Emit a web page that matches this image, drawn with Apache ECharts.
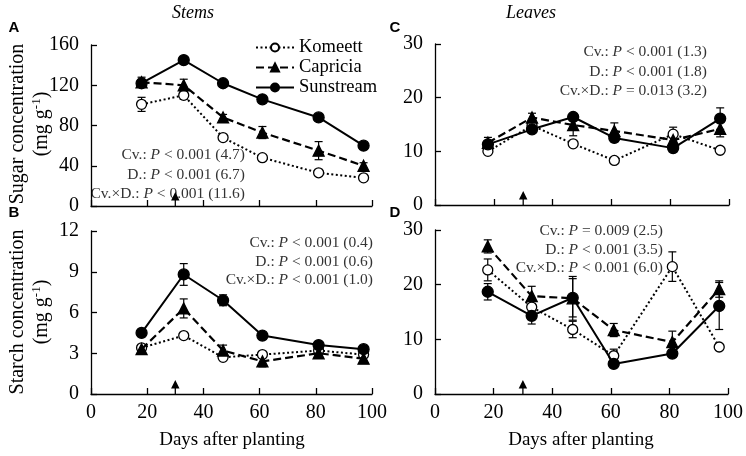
<!DOCTYPE html>
<html><head><meta charset="utf-8">
<script src="https://cdn.jsdelivr.net/npm/echarts@6/dist/echarts.min.js"></script>
<style>html,body{margin:0;padding:0;background:#fff}#c{width:746px;height:456px}</style>
</head><body><div id="c"></div>
<script>
// ---- data ----
const days = [18, 33, 47, 61, 81, 97];
const cultivars = ['Komeett', 'Capricia', 'Sunstream'];
const arrowDay = 30;

// Panel A: sugar, stems (mg g-1)
const sugarStemKomeett   = [101, 110, 68, 48, 33, 28];
const sugarStemCapricia  = [123, 120, 88, 73, 55, 40];
const sugarStemSunstream = [122, 145, 122, 106, 88, 60];
const sugarStemKomeettErr   = [7, 4, 2, 3, 2, 2];
const sugarStemCapriciaErr  = [5, 6, 3, 6, 9, 3];
const sugarStemSunstreamErr = [2, 2, 2, 2, 2, 2];

// Panel B: starch, stems
const starchStemKomeett   = [3.4, 4.3, 2.7, 2.9, 3.2, 2.9];
const starchStemCapricia  = [3.3, 6.3, 3.2, 2.4, 3.0, 2.6];
const starchStemSunstream = [4.5, 8.8, 6.9, 4.3, 3.6, 3.3];
const starchStemKomeettErr   = [0.2, 0.2, 0.2, 0.2, 0.2, 0.2];
const starchStemCapriciaErr  = [0.2, 0.7, 0.4, 0.4, 0.2, 0.2];
const starchStemSunstreamErr = [0.1, 0.8, 0.4, 0.2, 0.1, 0.1];

// Panel C: sugar, leaves
const sugarLeafKomeett   = [10.0, 14.8, 11.4, 8.3, 13.2, 10.2];
const sugarLeafCapricia  = [11.6, 16.3, 14.9, 13.8, 12.1, 14.2];
const sugarLeafSunstream = [11.3, 14.1, 16.4, 12.5, 10.6, 16.1];
const sugarLeafKomeettErr   = [0.4, 0.5, 0.4, 0.4, 1.3, 0.4];
const sugarLeafCapriciaErr  = [1.0, 0.8, 2.0, 1.5, 1.0, 1.5];
const sugarLeafSunstreamErr = [0.5, 0.5, 0.5, 0.7, 0.5, 2.0];

// Panel D: starch, leaves
const starchLeafKomeett   = [22.7, 15.9, 11.8, 7.0, 23.3, 8.6];
const starchLeafCapricia  = [27.0, 17.9, 17.5, 11.7, 9.5, 19.2];
const starchLeafSunstream = [18.7, 14.3, 17.6, 5.5, 7.4, 16.1];
const starchLeafKomeettErr   = [2.0, 0.5, 1.5, 1.2, 2.7, 0.4];
const starchLeafCapriciaErr  = [1.2, 1.8, 4.0, 1.2, 2.0, 1.5];
const starchLeafSunstreamErr = [1.5, 1.5, 3.5, 0.4, 0.4, 4.3];

const xTicks = [0, 20, 40, 60, 80, 100];

const statsA = [['Cv.: ', '< 0.001 (4.7)'], ['D.: ', '< 0.001 (6.7)'], ['Cv.\u00d7D.: ', '< 0.001 (11.6)']];
const statsB = [['Cv.: ', '< 0.001 (0.4)'], ['D.: ', '< 0.001 (0.6)'], ['Cv.\u00d7D.: ', '< 0.001 (1.0)']];
const statsC = [['Cv.: ', '< 0.001 (1.3)'], ['D.: ', '< 0.001 (1.8)'], ['Cv.\u00d7D.: ', '= 0.013 (3.2)']];
const statsD = [['Cv.: ', '= 0.009 (2.5)'], ['D.: ', '< 0.001 (3.5)'], ['Cv.\u00d7D.: ', '< 0.001 (6.0)']];

// ---- chart ----
const SERIF = '"Liberation Serif", "Times New Roman", serif';
const chart = echarts.init(document.getElementById('c'));

const panels = [
  {vals: [sugarStemKomeett, sugarStemCapricia, sugarStemSunstream],
   errs: [sugarStemKomeettErr, sugarStemCapriciaErr, sugarStemSunstreamErr],
   grid: {left: 91, top: 45, width: 281, height: 161}, y: {max: 160, interval: 40}, xlab: false},
  {vals: [starchStemKomeett, starchStemCapricia, starchStemSunstream],
   errs: [starchStemKomeettErr, starchStemCapriciaErr, starchStemSunstreamErr],
   grid: {left: 91, top: 231, width: 281, height: 163}, y: {max: 12, interval: 3}, xlab: true},
  {vals: [sugarLeafKomeett, sugarLeafCapricia, sugarLeafSunstream],
   errs: [sugarLeafKomeettErr, sugarLeafCapriciaErr, sugarLeafSunstreamErr],
   grid: {left: 435, top: 44, width: 294, height: 161}, y: {max: 30, interval: 10}, xlab: false},
  {vals: [starchLeafKomeett, starchLeafCapricia, starchLeafSunstream],
   errs: [starchLeafKomeettErr, starchLeafCapriciaErr, starchLeafSunstreamErr],
   grid: {left: 435, top: 230, width: 294, height: 164}, y: {max: 30, interval: 10}, xlab: true}
];

const styles = [
  {symbol: 'circle', size: 10, color: '#fff', line: {type: [2, 2.5], width: 2}},
  {symbol: 'triangle', size: 11, color: '#000', line: {type: [8, 4], width: 2.2}},
  {symbol: 'circle', size: 11, color: '#000', line: {type: 'solid', width: 2}}
];

const grids = [], xAxes = [], yAxes = [], series = [];
panels.forEach((p, i) => {
  grids.push(p.grid);
  xAxes.push({
    type: 'value', gridIndex: i, min: 0, max: 100, interval: 20,
    axisLine: {show: true, onZero: false, lineStyle: {color: '#000', width: 1.3}},
    axisTick: {show: true, inside: true, length: 6, lineStyle: {color: '#000', width: 1.3}},
    axisLabel: {show: p.xlab, color: '#000', fontFamily: SERIF, fontSize: 20, margin: 9},
    splitLine: {show: false}
  });
  yAxes.push({
    type: 'value', gridIndex: i, min: 0, max: p.y.max, interval: p.y.interval,
    axisLine: {show: true, lineStyle: {color: '#000', width: 1.3}},
    axisTick: {show: true, inside: true, length: 6, lineStyle: {color: '#000', width: 1.3}},
    axisLabel: {color: '#000', fontFamily: SERIF, fontSize: 20, margin: 12},
    splitLine: {show: false}
  });
  cultivars.forEach((name, k) => {
    const st = styles[k];
    const errData = days.map((d, j) => [d, p.vals[k][j], p.errs[k][j]]);
    series.push({
      type: 'custom', xAxisIndex: i, yAxisIndex: i, silent: true, z: 1,
      data: errData,
      renderItem: function (params, api) {
        const x = api.value(0), y = api.value(1), e = api.value(2);
        const top = api.coord([x, y + e]);
        const bot = api.coord([x, y - e]);
        const s = {stroke: '#000', lineWidth: 1.2};
        return {type: 'group', children: [
          {type: 'line', shape: {x1: top[0], y1: top[1], x2: bot[0], y2: bot[1]}, style: s},
          {type: 'line', shape: {x1: top[0] - 4, y1: top[1], x2: top[0] + 4, y2: top[1]}, style: s},
          {type: 'line', shape: {x1: bot[0] - 4, y1: bot[1], x2: bot[0] + 4, y2: bot[1]}, style: s}
        ]};
      }
    });
    series.push({
      type: 'line', name: name, xAxisIndex: i, yAxisIndex: i, z: 3 + k,
      data: days.map((d, j) => [d, p.vals[k][j]]),
      symbol: st.symbol, symbolSize: st.size, showSymbol: true,
      lineStyle: {color: '#000', width: st.line.width, type: st.line.type},
      itemStyle: {color: st.color, borderColor: '#000', borderWidth: 1.3},
      emphasis: {disabled: true}, animation: false
    });
  });
  series.push({
    type: 'scatter', xAxisIndex: i, yAxisIndex: i, z: 6, silent: true,
    data: [[arrowDay, 0]],
    symbol: 'path://M5,0 L10,8 L5.75,8 L5.75,13 L4.25,13 L4.25,8 L0,8 Z',
    symbolSize: [11, 14], symbolOffset: [0, -7], symbolKeepAspect: true,
    itemStyle: {color: '#000', opacity: 1}
  });
});

function statText(lines, x, y, gap) {
  return lines.map((l, j) => ({
    type: 'text', x: x, y: y + j * gap,
    style: {
      text: '{n|' + l[0] + '}{i|P}{n| ' + l[1] + '}',
      textAlign: 'right', textVerticalAlign: 'middle',
      rich: {
        n: {fontFamily: SERIF, fontSize: 15.5, fill: '#333'},
        i: {fontFamily: SERIF, fontSize: 15.5, fontStyle: 'italic', fill: '#333'}
      }
    }
  }));
}

function yTitle(x, y, line1) {
  return [
    {type: 'text', x: x, y: y, rotation: Math.PI / 2,
     style: {text: line1, textAlign: 'center', textVerticalAlign: 'middle',
             font: '20px ' + SERIF, fill: '#000'}},
    {type: 'text', x: x + 24, y: y, rotation: Math.PI / 2,
     style: {text: '{n|(mg g}{s|-1}{n|)}', textAlign: 'center', textVerticalAlign: 'middle',
             rich: {n: {fontFamily: SERIF, fontSize: 20, fill: '#000'},
                    s: {fontFamily: SERIF, fontSize: 13, fill: '#000', padding: [0, 0, 10, 0]}}}}
  ];
}

const letter = (t, x, y) => ({type: 'text', x: x, y: y,
  style: {text: t, font: 'bold 15px "Liberation Sans", Arial, sans-serif', fill: '#000',
          textAlign: 'center', textVerticalAlign: 'middle'}});

const graphics = [].concat(
  [
    {type: 'text', x: 193, y: 13, style: {text: 'Stems', font: 'italic 18px ' + SERIF, fill: '#000', textAlign: 'center', textVerticalAlign: 'middle'}},
    {type: 'text', x: 531, y: 13, style: {text: 'Leaves', font: 'italic 18px ' + SERIF, fill: '#000', textAlign: 'center', textVerticalAlign: 'middle'}},
    {type: 'text', x: 232, y: 440, style: {text: 'Days after planting', font: '19px ' + SERIF, fill: '#000', textAlign: 'center', textVerticalAlign: 'middle'}},
    {type: 'text', x: 581, y: 440, style: {text: 'Days after planting', font: '19px ' + SERIF, fill: '#000', textAlign: 'center', textVerticalAlign: 'middle'}},
    letter('A', 14, 28), letter('B', 14, 213), letter('C', 395, 28), letter('D', 395, 213)
  ],
  yTitle(18, 124, 'Sugar concentration'),
  yTitle(18, 312, 'Starch concentration'),
  statText(statsA, 245, 155, 19.5),
  statText(statsB, 373, 243, 18.5),
  statText(statsC, 707, 52, 19.5),
  statText(statsD, 663, 231, 18.5)
);

chart.setOption({
  animation: false,
  backgroundColor: '#fff',
  grid: grids, xAxis: xAxes, yAxis: yAxes, series: series,
  legend: {
    data: cultivars, orient: 'vertical', left: 250, top: 33,
    itemWidth: 38, itemHeight: 10, itemGap: 1,
    textStyle: {fontFamily: SERIF, fontSize: 18.5, color: '#000'},
    selectedMode: false
  },
  graphic: graphics
});
</script></body></html>
